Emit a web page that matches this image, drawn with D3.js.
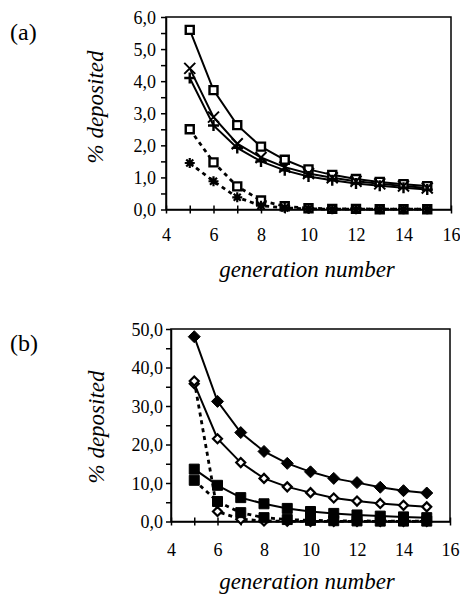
<!DOCTYPE html>
<html>
<head>
<meta charset="utf-8">
<script src="https://cdn.jsdelivr.net/npm/d3@7"></script>
<style>
  body { margin: 0; background: #fff; }
  svg text { font-family: "Liberation Serif", Tinos, "Times New Roman", "DejaVu Serif", serif !important; }
</style>
</head>
<body>
<div id="chart"></div>
<script>
// ------------------------------------------ DATA -------------------------------------------

let generations = [5, 6, 7, 8, 9, 10, 11, 12, 13, 14, 15];

// panel (a)
let a_square_solid = [5.6, 3.72, 2.63, 1.96, 1.55, 1.25, 1.08, 0.95, 0.86, 0.79, 0.73];
let a_times_solid  = [4.4, 2.88, 2.05, 1.62, 1.32, 1.12, 0.99, 0.88, 0.80, 0.73, 0.67];
let a_plus_solid   = [4.1, 2.62, 1.92, 1.50, 1.22, 1.03, 0.91, 0.81, 0.74, 0.68, 0.62];
let a_square_dash  = [2.5, 1.47, 0.72, 0.28, 0.10, 0.04, 0.02, 0.02, 0.01, 0.01, 0.01];
let a_star_dash    = [1.45, 0.88, 0.38, 0.12, 0.05, 0.02, 0.01, 0.01, 0.01, 0.01, 0.01];

// panel (b)
let b_diamond_solid  = [48.0, 31.2, 23.1, 18.2, 15.1, 12.9, 11.2, 10.1, 8.9, 8.0, 7.4];
let b_odiamond_solid = [35.8, 21.5, 15.3, 11.2, 9.0, 7.5, 6.1, 5.3, 4.7, 4.2, 3.8];
let b_square_solid   = [13.6, 9.4, 6.2, 4.6, 3.4, 2.6, 2.1, 1.7, 1.4, 1.2, 1.0];
let b_odiamond_dash  = [36.5, 2.6, 0.6, 0.15, 0.05, 0.02, 0.01, 0.01, 0.01, 0.01, 0.01];
let b_square_dash    = [10.7, 5.2, 2.3, 1.0, 0.5, 0.3, 0.2, 0.15, 0.1, 0.1, 0.1];

let x_ticks = [4, 5, 6, 7, 8, 9, 10, 11, 12, 13, 14, 15, 16];
let x_labels = [4, 6, 8, 10, 12, 14, 16];
let a_y_ticks = [0, 0.5, 1, 1.5, 2, 2.5, 3, 3.5, 4, 4.5, 5, 5.5, 6];
let a_y_labels = ["0,0", "1,0", "2,0", "3,0", "4,0", "5,0", "6,0"];
let b_y_ticks = [0, 5, 10, 15, 20, 25, 30, 35, 40, 45, 50];
let b_y_labels = ["0,0", "10,0", "20,0", "30,0", "40,0", "50,0"];

// ---------------------------------------- FUNCTIONS ----------------------------------------

// marker shapes, centred on 0,0
function shape(type, s) {
    switch(type) {
        case 'square': return `M${-s},${-s}H${s}V${s}H${-s}Z`;
        case 'diamond': return `M0,${-s}L${s},0L0,${s}L${-s},0Z`;
        case 'times': return `M${-s},${-s}L${s},${s}M${-s},${s}L${s},${-s}`;
        case 'plus': return `M${-s},0H${s}M0,${-s}V${s}`;
        default: // asterisk
            let d = s * 0.7;
            return `M${-s},0H${s}M0,${-s}V${s}M${-d},${-d}L${d},${d}M${-d},${d}L${d},${-d}`;
    }
}

var svg = d3.select("#chart")
  .append("svg")
    .attr("width", 460)
    .attr("height", 594);

function panel(p) {
    let x = d3.scaleLinear().domain([4, 16]).range([p.left, p.right]);
    let y = d3.scaleLinear().domain([0, p.ymax]).range([p.bottom, p.top]);
    let g = svg.append("g");

    // plot area border
    g.append("rect")
        .attr("x", x(4)).attr("y", y(p.ymax))
        .attr("width", x(16) - x(4)).attr("height", y(0) - y(p.ymax))
        .attr("fill", "none").attr("stroke", "#000").attr("stroke-width", 1.5);

    // Y axis
    let ya = g.append("g")
        .attr("transform", "translate(" + x(4) + ",0)")
        .call(d3.axisLeft(y).tickValues(p.yticks).tickSize(5).tickSizeOuter(0)
            .tickPadding(p.ypad)
            .tickFormat(d => { let i = p.ylabels.findIndex((l, k) => k * p.ystep === d); return i >= 0 ? p.ylabels[i] : ""; }));
    ya.attr("font-family", null);
    ya.selectAll("text").style("font-size", "18px").attr("fill", "#000").attr("dy", "0.34em");

    // X axis
    let xa = g.append("g")
        .attr("transform", "translate(0," + y(0) + ")")
        .call(d3.axisBottom(x).tickValues(x_ticks).tickSize(4).tickSizeOuter(0)
            .tickFormat(d => x_labels.includes(d) ? d : ""));
    xa.attr("font-family", null);
    xa.selectAll(".tick line").attr("y1", -4);
    xa.selectAll("text").style("font-size", "18px").attr("fill", "#000")
        .attr("dy", null).attr("y", p.xlabel_y);
    g.selectAll(".domain, .tick line").attr("stroke", "#000").attr("stroke-width", 1.5);

    // lines
    let line = d3.line().x((d, i) => x(generations[i])).y(d => y(d));
    p.series.forEach(s => {
        g.append("path")
            .datum(s.values)
            .attr("fill", "none")
            .attr("stroke", "#000")
            .attr("stroke-width", s.dashed ? 2.8 : 2)
            .attr("stroke-dasharray", s.dashed ? "4,4" : null)
            .attr("d", line);
    });

    // markers
    p.series.forEach(s => {
        g.append("g").selectAll("path")
            .data(s.values)
            .enter()
            .append("path")
            .attr("transform", (d, i) => "translate(" + x(generations[i]) + "," + y(d) + ")")
            .attr("d", shape(s.marker, s.size))
            .attr("fill", s.fill)
            .attr("stroke", "#000")
            .attr("stroke-width", s.sw);
    });

    // titles
    g.append("text")
        .attr("x", 307).attr("y", p.xtitle_y)
        .attr("text-anchor", "middle")
        .style("font-size", "23px").style("font-style", "italic")
        .text("generation number");
    g.append("text")
        .attr("transform", "translate(" + p.ytitle_x + "," + p.ytitle_y + ") rotate(-90)")
        .attr("text-anchor", "middle")
        .style("font-size", "23px").style("font-style", "italic")
        .text("% deposited");
    g.append("text")
        .attr("x", 10).attr("y", p.label_y)
        .style("font-size", "24px")
        .text(p.label);
}

panel({
    left: 166, right: 451, top: 17, bottom: 209.5, ymax: 6,
    yticks: a_y_ticks, ylabels: a_y_labels, ystep: 1, ypad: 5,
    xlabel_y: 31.5, xtitle_y: 277, ytitle_x: 103, ytitle_y: 107,
    label: "(a)", label_y: 40,
    series: [
        {values: a_square_solid, marker: 'square', size: 4, fill: "#fff", sw: 2.4},
        {values: a_times_solid, marker: 'times', size: 5.5, fill: "none", sw: 2},
        {values: a_plus_solid, marker: 'plus', size: 5.5, fill: "none", sw: 2.4},
        {values: a_square_dash, marker: 'square', size: 4, fill: "#fff", sw: 2.4, dashed: true},
        {values: a_star_dash, marker: 'asterisk', size: 5, fill: "none", sw: 2.2, dashed: true}
    ]
});

panel({
    left: 171, right: 450, top: 329, bottom: 521.5, ymax: 50,
    yticks: b_y_ticks, ylabels: b_y_labels, ystep: 10, ypad: 3,
    xlabel_y: 34.5, xtitle_y: 589, ytitle_x: 104, ytitle_y: 427,
    label: "(b)", label_y: 351,
    series: [
        {values: b_diamond_solid, marker: 'diamond', size: 6, fill: "#000", sw: 1},
        {values: b_odiamond_solid, marker: 'diamond', size: 4.5, fill: "#fff", sw: 2.2},
        {values: b_square_solid, marker: 'square', size: 5, fill: "#000", sw: 1},
        {values: b_odiamond_dash, marker: 'diamond', size: 4.5, fill: "#fff", sw: 2.2, dashed: true},
        {values: b_square_dash, marker: 'square', size: 5, fill: "#000", sw: 1, dashed: true}
    ]
});
</script>
</body>
</html>
